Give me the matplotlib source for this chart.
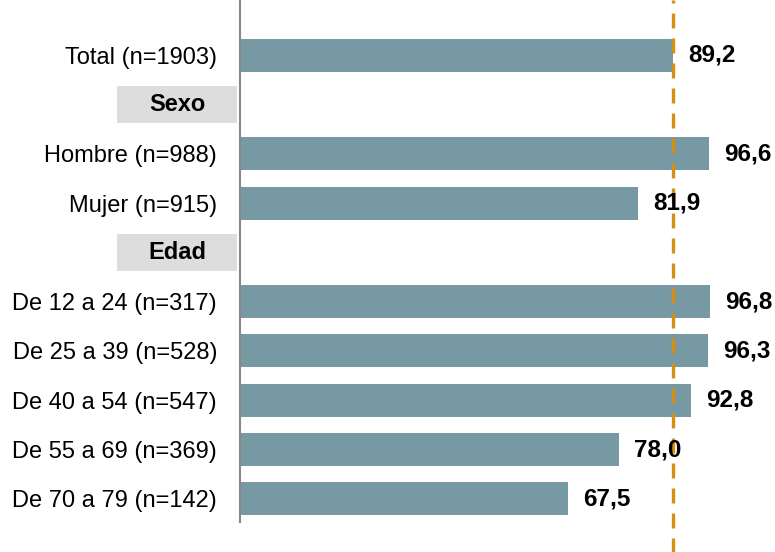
import matplotlib as mpl
mpl.use('Agg')
import matplotlib.pyplot as plt
from matplotlib import transforms
from matplotlib.patches import Rectangle

# rows from top to bottom; None value = section header
row_labels = ['Total (n=1903)', 'Sexo', 'Hombre (n=988)', 'Mujer (n=915)', 'Edad',
              'De 12 a 24 (n=317)', 'De 25 a 39 (n=528)', 'De 40 a 54 (n=547)',
              'De 55 a 69 (n=369)', 'De 70 a 79 (n=142)']
values = [89.2, None, 96.6, 81.9, None, 96.8, 96.3, 92.8, 78.0, 67.5]
reference = 89.2

bar_color = '#7699a3'
line_color = '#d68f12'
plt.rcParams['font.family'] = ['Liberation Sans', 'DejaVu Sans']

fig = plt.figure(figsize=(7.75, 5.52), dpi=100)
ax = fig.add_axes([240 / 775, 30 / 552, 535 / 775, 522 / 552])

ypos = list(range(len(row_labels)))
tick_pos = []
tick_lab = []
blend = transforms.blended_transform_factory(fig.transFigure, ax.transData)
for y, lab, v in zip(ypos, row_labels, values):
    if v is None:
        ax.add_patch(Rectangle((117 / 775, y - 0.38), 120 / 775, 0.76, transform=blend,
                               facecolor='#dddddd', edgecolor='none', clip_on=False))
        ax.text(177 / 775, y, lab, transform=blend, ha='center', va='center',
                fontsize=17, fontweight='bold')
        continue
    ax.barh(y, v, height=0.67, color=bar_color)
    ax.text(v + 3.2, y, ('%.1f' % v).replace('.', ','), ha='left', va='center',
            fontsize=17.5, fontweight='bold', zorder=5)
    tick_pos.append(y)
    tick_lab.append(lab)

ax.set_yticks(tick_pos)
ax.set_yticklabels(tick_lab, fontsize=17)
ax.tick_params(axis='y', length=0, pad=16.5)
ax.set_xticks([])
ax.set_xlim(0, 110.2)
ax.set_ylim(9.47, -1.12)
for s in ['top', 'right', 'bottom']:
    ax.spines[s].set_visible(False)
ax.spines['left'].set_color('#888888')
ax.spines['left'].set_linewidth(1.5)

ax.axvline(reference, ymin=-0.06, ymax=1.0, color=line_color, lw=2.4,
           dashes=(4.5, 3.0), clip_on=False, zorder=4)

fig.savefig('out.png', dpi=100)
